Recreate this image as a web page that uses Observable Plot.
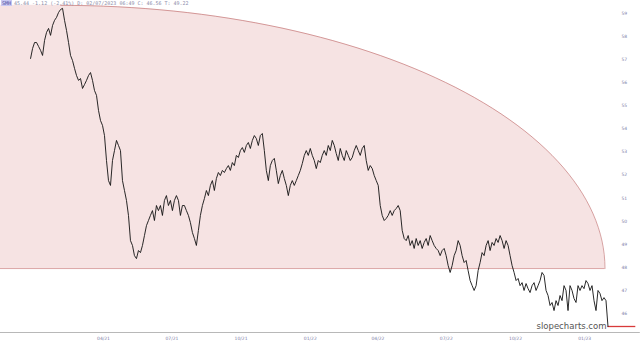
<!DOCTYPE html>
<html><head><meta charset="utf-8">
<script src="https://cdn.jsdelivr.net/npm/d3@7"></script>
<script src="https://cdn.jsdelivr.net/npm/@observablehq/plot@0.6"></script>
<style>
body{margin:0;background:#fff;font-family:"DejaVu Sans",sans-serif;}
#wrap{position:relative;width:640px;height:343px;overflow:hidden;}
#hdr{position:absolute;left:1px;top:0px;font-size:5px;color:#8a8aa8;white-space:nowrap;font-family:"DejaVu Sans Mono",monospace;line-height:7px;}
#hdr span{background:#c9c9f2;color:#5050a0;padding:0 1px;margin-right:2px;}
</style></head>
<body><div id="wrap"><div id="hdr"><span>SMH</span>45.44 -1.12 (-2.41%) D: 02/07/2023 06:49 C: 46.56 T: 49.22</div></div>
<script>
// ---- data ----
const seriesStart = "2020-12-25";
const seriesEnd = "2023-02-01";
const prices = [57.05,57.48,57.74,57.74,57.57,57.40,57.18,57.83,58.18,58.35,58.05,58.48,58.70,58.83,59.04,59.17,59.22,58.70,58.26,57.74,
57.18,56.96,56.62,56.31,56.10,56.18,55.75,55.92,56.10,56.31,56.44,56.10,55.66,55.45,54.80,54.36,54.15,53.71,52.63,51.76,
51.55,52.63,53.06,53.50,53.28,53.06,51.76,51.33,50.90,50.25,49.16,48.95,48.51,48.38,48.73,48.64,48.95,49.38,49.81,50.03,
50.25,50.46,50.03,50.68,50.46,50.68,50.25,50.90,51.11,50.68,50.90,50.46,50.90,51.11,50.90,50.25,50.68,50.68,50.46,50.25,
49.94,49.51,49.25,48.95,49.60,50.25,50.68,50.98,51.33,51.11,51.55,51.76,51.33,51.85,52.11,51.98,52.20,52.11,52.28,52.41,
52.20,52.54,52.41,52.85,52.76,53.06,53.19,52.98,53.28,53.41,53.15,53.50,53.71,53.58,53.28,53.71,53.80,53.06,52.20,51.76,
52.41,52.63,52.72,52.20,51.63,51.98,52.20,51.85,51.55,51.11,51.55,51.76,51.55,51.76,51.98,52.20,52.50,52.85,53.06,52.85,
53.15,52.85,52.63,52.28,52.63,52.54,52.85,53.06,52.85,53.28,53.06,53.50,53.28,52.93,52.63,53.15,52.85,52.63,53.06,52.85,
52.63,52.76,53.06,53.28,53.06,52.85,53.15,53.28,52.63,52.20,52.41,52.28,51.98,51.76,51.55,50.68,50.25,50.03,50.12,50.25,
50.46,50.25,50.46,50.55,50.68,50.46,49.60,49.25,49.16,49.38,48.95,49.16,48.82,49.25,48.95,49.16,48.82,49.08,49.25,48.95,
49.38,49.16,48.95,48.82,48.73,48.51,48.73,48.82,48.51,48.08,47.78,48.08,48.51,48.73,49.16,48.95,48.51,48.21,48.30,47.86,
47.43,47.21,47.00,47.21,47.86,48.21,48.64,48.51,48.95,49.16,48.73,49.08,48.95,49.25,49.08,49.38,49.16,48.82,49.16,48.95,
48.51,48.08,47.78,47.43,47.52,47.21,47.34,47.00,47.30,47.08,46.91,47.21,47.34,47.00,47.21,47.43,47.78,47.65,47.00,46.78,
46.35,46.48,46.13,46.56,46.35,46.78,46.56,47.21,47.00,46.13,47.21,47.00,46.65,46.48,47.21,47.00,47.21,47.08,47.43,47.30,
47.00,47.21,46.56,46.13,47.00,46.87,46.56,46.69,46.56,45.44];
const yTicks = [46,47,48,49,50,51,52,53,54,55,56,57,58,59];
const xTicks = ["2021-04-01","2021-07-01","2021-10-01","2022-01-01","2022-04-01","2022-07-01","2022-10-01","2023-01-01"];
const xDomain = ["2020-11-15","2023-02-07"];
const yDomain = [45.18, 59.56];
// annotation: quarter ellipse drawn on the chart
const arcCenterDate = "2021-02-03";
const arcEndDate = "2023-01-28";
const arcBase = 47.95;
const arcTop = 59.35;
const lastPrice = 45.44;
const lastLineEnd = "2023-03-10";
const axisEnd = "2023-03-16";
const watermark = ["slopecharts.com"];

// ---- build ----
const t0 = new Date(seriesStart).getTime(), t1 = new Date(seriesEnd).getTime();
const data = prices.map((p, i) => ({date: new Date(t0 + (t1 - t0) * i / (prices.length - 1)), price: p}));

const c = new Date(arcCenterDate).getTime(), rx = new Date(arcEndDate).getTime() - c, ry = arcTop - arcBase;
const arc = d3.range(0, 61).map(k => { const a = (Math.PI / 2) * k / 60; return {date: new Date(c + rx * Math.sin(a)), y: arcBase + ry * Math.cos(a)}; });
const region = [{date: new Date(xDomain[0]), y: arcTop}, ...arc];

const chart = Plot.plot({
  width: 640, height: 343,
  marginLeft: 0, marginRight: 28, marginTop: 0, marginBottom: 11,
  style: {background: "transparent", fontFamily: "DejaVu Sans, sans-serif"},
  x: {type: "utc", domain: xDomain.map(d => new Date(d))},
  y: {domain: yDomain},
  marks: [
    Plot.areaY(region, {x: "date", y1: arcBase, y2: "y", fill: "#f6e3e3", curve: "linear"}),
    Plot.line(arc, {x: "date", y: "y", stroke: "#b85a5a", strokeWidth: 0.7, strokeOpacity: 0.8}),
    Plot.ruleY([arcBase], {x1: new Date(xDomain[0]), x2: new Date(arcEndDate), stroke: "#c06060", strokeWidth: 0.7, strokeOpacity: 0.8}),
    Plot.ruleY([yDomain[0]], {x1: new Date(xDomain[0]), x2: new Date(axisEnd), stroke: "#b8b8b8", strokeWidth: 1}),
    Plot.axisY(yTicks, {anchor: "right", tickSize: 0, tickPadding: 9, fontSize: 4.5, fill: "#8080a8", label: null, textAnchor: "start"}),
    Plot.axisX(xTicks.map(d => new Date(d)), {anchor: "bottom", tickSize: 0, tickPadding: 4, fontSize: 4.5, fill: "#8080a8", label: null, tickFormat: d3.utcFormat("%m/%y")}),
    Plot.ruleY([lastPrice], {x1: new Date(seriesEnd), x2: new Date(lastLineEnd), stroke: "#d83a3a", strokeWidth: 1.3}),
    Plot.line(data, {x: "date", y: "price", stroke: "#111", strokeWidth: 0.9}),
    Plot.text(watermark, {frameAnchor: "bottom-right", dx: -6, dy: -4, fontSize: 8.5, fill: "#555", textAnchor: "end", text: d => d})
  ]
});
document.getElementById("wrap").prepend(chart);
chart.style.position = "absolute"; chart.style.left = "0"; chart.style.top = "0";
</script></body></html>
